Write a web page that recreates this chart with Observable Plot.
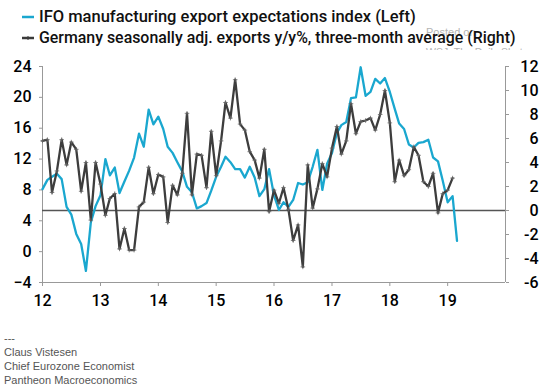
<!DOCTYPE html>
<html>
<head>
<meta charset="utf-8">
<script src="https://cdn.jsdelivr.net/npm/d3@7"></script>
<script src="https://cdn.jsdelivr.net/npm/@observablehq/plot@0.6"></script>
<style>
  html, body { margin: 0; padding: 0; background: #fff; }
  #wrap { position: relative; width: 540px; height: 387px; overflow: hidden; font-family: Arial, "Liberation Sans", sans-serif; }
  .wm { position: absolute; color: #b4b4b4; white-space: nowrap; font-family: Arial, "Liberation Sans", sans-serif; }
  .leg { position: absolute; left: 20px; font-size: 16.5px; font-weight: 500; font-family: Roboto, Arial, sans-serif; color: #111; white-space: nowrap; display: flex; align-items: center; }
  .leg svg { margin-right: 3px; }
  #chart { position: absolute; left: 0; top: 50px; }
  #foot { position: absolute; left: 4px; top: 331px; font-size: 11px; line-height: 14px; color: #555; }
</style>
</head>
<body>
<div id="wrap">
  <div class="wm" style="left:426px;top:26px;font-size:11px;">Posted on</div>
  <div class="wm" style="left:426px;top:46px;font-size:10.5px;">WSJ: The Daily Shot</div>
  <div class="wm" style="right:34px;top:62px;font-size:10.5px;">09-Apr-2019</div>
  <div class="wm" style="left:421px;top:80px;font-size:14px;">@SoberLook</div>
  <div class="leg" style="top:7px;">
    <svg width="16" height="14"><line x1="2" x2="14" y1="7" y2="7" stroke="#1aa7cf" stroke-width="2.5"/></svg>
    <span>IFO manufacturing export expectations index (Left)</span>
  </div>
  <div class="leg" style="top:28px;font-size:15.9px;">
    <svg width="16" height="14"><line x1="2" x2="14" y1="7" y2="7" stroke="#3a3a3a" stroke-width="2.5"/><line x1="8" x2="8" y1="5" y2="9" stroke="#3a3a3a" stroke-width="1"/></svg>
    <span>Germany seasonally adj. exports y/y%, three-month average (Right)</span>
  </div>
  <div id="chart"></div>
  <div id="foot">---<br>Claus Vistesen<br>Chief Eurozone Economist<br>Pantheon Macroeconomics</div>
</div>
<script>
// Monthly series starting January 2012
const startYear = 2012;
const startMonth = 0;

// IFO manufacturing export expectations index (left axis), Jan 2012 - Mar 2019
const ifo = [
  8.1, 9.3, 9.7, 10.1, 9.4, 5.8, 4.8, 2.3, 1.0, -2.5, 3.8, 5.9,
  7.3, 12.0, 9.9, 10.9, 7.6, 9.1, 10.5, 12.2, 15.3, 13.6, 18.4, 16.5,
  17.5, 15.9, 13.6, 12.8, 11.6, 10.4, 8.4, 7.7, 5.6, 5.9, 6.3, 7.9,
  9.7, 11.0, 12.3, 11.6, 10.7, 10.7, 9.6, 11.0, 9.6, 7.2, 8.1, 10.7,
  7.3, 5.4, 6.4, 5.8, 6.7, 8.9, 8.7, 9.0, 11.0, 13.2, 8.0, 11.4,
  12.8, 15.4, 16.4, 16.8, 19.9, 20.0, 23.9, 20.2, 20.7, 22.4, 21.8, 22.5,
  20.7, 18.5, 16.6, 15.9, 13.9, 13.5, 14.1, 14.2, 14.5, 12.2, 11.7, 9.2,
  6.4, 7.2, 1.4
];

// Germany seasonally adjusted exports y/y%, 3m avg (right axis), Jan 2012 - Feb 2019
const exportsYoY = [
  5.8, 5.9, 1.5, 3.3, 5.9, 3.8, 5.7, 5.1, 1.6, 4.0, -0.8, 4.0,
  2.2, -0.4, 1.0, 1.4, -3.2, -1.5, -3.3, -3.3, 0.3, 0.7, 3.6, 1.4,
  3.0, 2.8, -1.0, 2.1, 1.3, 3.1, 8.1, 1.3, 4.7, 4.6, 1.9, 6.6,
  2.9, 5.8, 9.0, 7.7, 10.9, 7.2, 6.7, 4.9, 4.2, 2.7, 5.1, -0.1,
  1.7, 0.6, 1.9, 0.1, -2.5, -1.2, -4.7, 3.8, 0.2, 1.8, 3.9, 2.8,
  5.2, 7.0, 4.7, 5.8, 8.9, 6.4, 7.4, 7.5, 7.7, 6.7, 8.0, 10.0,
  7.3, 2.4, 4.2, 2.9, 3.4, 5.3, 4.6, 2.4, 2.0, 3.1, -0.2, 1.4,
  1.7, 2.7
];

// Axis ticks
const leftTicks = [-4, 0, 4, 8, 12, 16, 20, 24];
const rightTicks = [-6, -4, -2, 0, 2, 4, 6, 8, 10, 12];
const yearTicks = [2012, 2013, 2014, 2015, 2016, 2017, 2018, 2019];

const leftDomain = [-4, 24];
const rightDomain = [-6, 12];

// map right-axis value onto left-axis scale
const toLeft = r => leftDomain[0] + (r - rightDomain[0]) * (leftDomain[1] - leftDomain[0]) / (rightDomain[1] - rightDomain[0]);
const toRight = l => rightDomain[0] + (l - leftDomain[0]) * (rightDomain[1] - rightDomain[0]) / (leftDomain[1] - leftDomain[0]);

const monthDate = i => new Date(Date.UTC(startYear, startMonth + i, 1));
const ifoData = ifo.map((v, i) => ({date: monthDate(i), v}));
const expData = exportsYoY.map((v, i) => ({date: monthDate(i), v: toLeft(v)}));

const x0 = new Date(Date.UTC(2012, 0, 1));
const x1 = new Date(Date.UTC(2020, 0, 1));

const chart = Plot.plot({
  width: 540,
  height: 270,
  marginTop: 16,
  marginBottom: 38,
  marginLeft: 42,
  marginRight: 35,
  style: {fontFamily: "Roboto, Arial, sans-serif", fontSize: "16px", fontWeight: 500, color: "#000", background: "#fff"},
  x: {type: "utc", domain: [x0, x1]},
  y: {domain: leftDomain},
  marks: [
    Plot.ruleY([leftDomain[0]], {stroke: "#999"}),
    Plot.ruleX([x0, x1], {stroke: "#999"}),
    Plot.axisX({
      ticks: yearTicks.map(y => new Date(Date.UTC(y, 0, 1))),
      tickFormat: d => String(d.getUTCFullYear()).slice(2),
      tickSize: 4, tickPadding: 8, stroke: "#999", fill: "#000", label: null
    }),
    Plot.axisY({
      anchor: "left", ticks: leftTicks, tickSize: 3, tickPadding: 8,
      stroke: "#999", fill: "#000", label: null
    }),
    Plot.axisY({
      anchor: "right", ticks: rightTicks.map(toLeft),
      tickFormat: l => String(Math.round(toRight(l))),
      tickSize: 3, tickPadding: 30, textAnchor: "end",
      stroke: "#999", fill: "#000", label: null
    }),
    Plot.ruleY([toLeft(0)], {stroke: "#555", strokeWidth: 1.3}),
    Plot.line(ifoData, {x: "date", y: "v", stroke: "#1aa7cf", strokeWidth: 2.3}),
    Plot.line(expData, {x: "date", y: "v", stroke: "#3d3d3d", strokeWidth: 2.3}),
    Plot.dot(expData, {x: "date", y: "v", symbol: "plus", r: 1.6, stroke: "#666", strokeWidth: 0.8})
  ]
});
document.getElementById("chart").appendChild(chart);
</script>
</body>
</html>
